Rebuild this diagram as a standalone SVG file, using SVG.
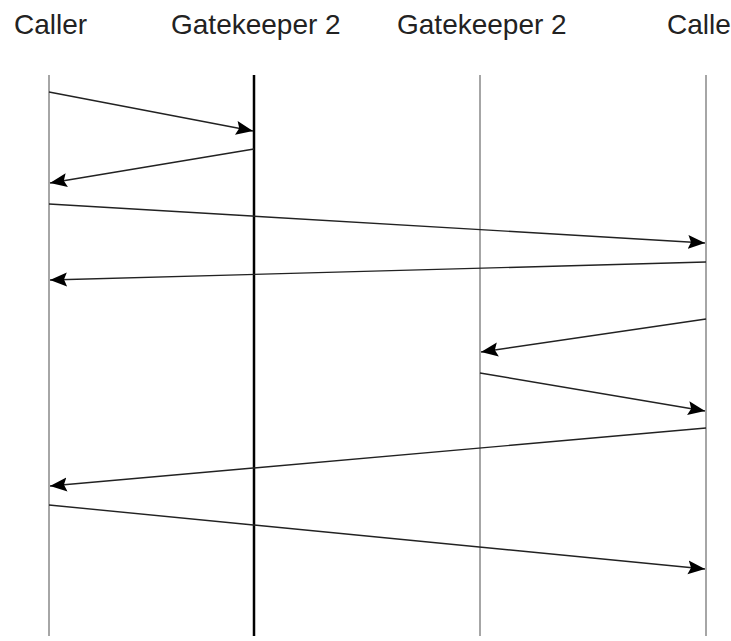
<svg xmlns="http://www.w3.org/2000/svg" width="731" height="641" viewBox="0 0 731 641">
<style>
.lbl{font-family:"Liberation Sans",Arial,sans-serif;font-size:28px;fill:#222}
.life{stroke:#888;stroke-width:1.5}
.life.bold{stroke:#000;stroke-width:2.5}
.msg{stroke:#222;stroke-width:1.4;fill:none;marker-end:url(#ah)}
</style>
<defs>
<marker id="ah" markerUnits="userSpaceOnUse" markerWidth="18" markerHeight="16" viewBox="0 0 18 16" refX="17" refY="8" orient="auto">
<path d="M0,1 L17,8 L0,15 L3,8 Z" fill="#000"/>
</marker>
</defs>
<rect width="731" height="641" fill="#fff"/>
<g id="caller">
<text class="lbl" x="14" y="34">Caller</text>
<line class="life" x1="49" y1="75" x2="49" y2="636"/>
</g>
<g id="gatekeeper1">
<text class="lbl" x="171" y="34">Gatekeeper 2</text>
<line class="life bold" x1="254" y1="75" x2="254" y2="636"/>
</g>
<g id="gatekeeper2">
<text class="lbl" x="397" y="34">Gatekeeper 2</text>
<line class="life" x1="480" y1="75" x2="480" y2="636"/>
</g>
<g id="callee">
<text class="lbl" x="667" y="34">Calle</text>
<line class="life" x1="706" y1="75" x2="706" y2="636"/>
</g>
<g id="connectors">
<line class="msg" x1="49" y1="92" x2="253" y2="131"/>
<line class="msg" x1="254" y1="149" x2="50" y2="183"/>
<line class="msg" x1="49" y1="204" x2="705" y2="243"/>
<line class="msg" x1="706" y1="262" x2="50" y2="280"/>
<line class="msg" x1="706" y1="319" x2="481" y2="352"/>
<line class="msg" x1="480" y1="373" x2="705" y2="411"/>
<line class="msg" x1="706" y1="428" x2="50" y2="486"/>
<line class="msg" x1="49" y1="505" x2="705" y2="569"/>
</g>
</svg>
